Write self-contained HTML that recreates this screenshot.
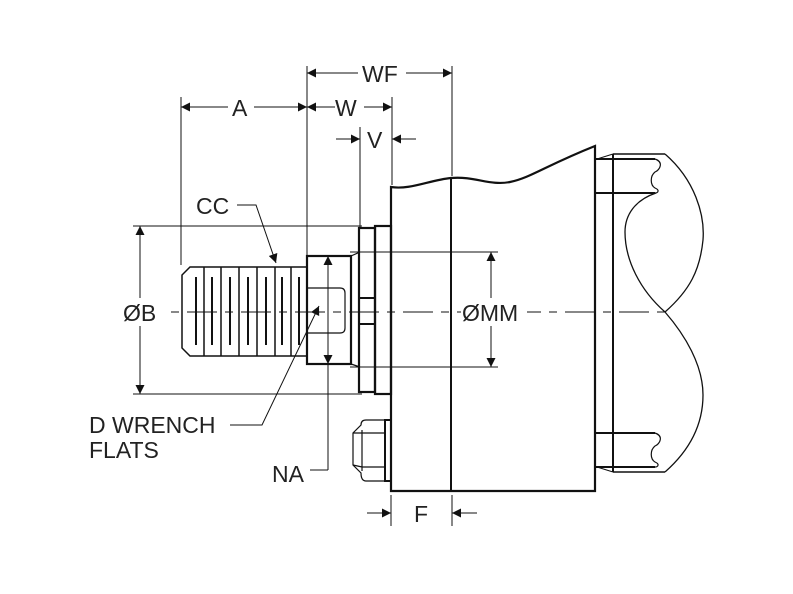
<!DOCTYPE html>
<html><head><meta charset="utf-8"><style>
html,body{margin:0;padding:0;background:#fff}
svg{display:block}
text{font-family:"Liberation Sans",sans-serif;font-size:23px;fill:#222}
</style></head><body>
<svg width="793" height="594" viewBox="0 0 793 594" xmlns="http://www.w3.org/2000/svg">
<defs>
<marker id="ar2" viewBox="0 0 10 10" refX="10" refY="5" markerWidth="18" markerHeight="9" orient="auto-start-reverse" markerUnits="userSpaceOnUse"><path d="M0,0 L10,5 L0,10 z" fill="#111"/></marker>
</defs>
<g stroke="#111" fill="none">
<line x1="133" y1="312" x2="672" y2="312" stroke-width="1" stroke-dasharray="30,8,8,8"/>
<g stroke-width="1">
<line x1="133" y1="226" x2="362" y2="226"/>
<line x1="133" y1="394" x2="362" y2="394"/>
<line x1="350" y1="252" x2="498" y2="252"/>
<line x1="350" y1="367" x2="498" y2="367"/>
<line x1="181" y1="97" x2="181" y2="265"/>
<line x1="307" y1="66" x2="307" y2="255"/>
<line x1="392" y1="97" x2="392" y2="185"/>
<line x1="360" y1="127" x2="360" y2="228"/>
<line x1="452" y1="66" x2="452" y2="176"/>
<line x1="391" y1="495" x2="391" y2="526"/>
<line x1="452" y1="495" x2="452" y2="526"/>
<line x1="140" y1="226" x2="140" y2="298" marker-start="url(#ar2)"/>
<line x1="140" y1="326" x2="140" y2="394" marker-end="url(#ar2)"/>
<line x1="491" y1="252" x2="491" y2="298" marker-start="url(#ar2)"/>
<line x1="491" y1="326" x2="491" y2="367" marker-end="url(#ar2)"/>
<line x1="328" y1="256" x2="328" y2="470" marker-start="url(#ar2)"/>
<line x1="328" y1="364" x2="328" y2="340" marker-start="url(#ar2)"/>
<line x1="328" y1="470" x2="310" y2="470"/>
<line x1="181" y1="107" x2="228" y2="107" marker-start="url(#ar2)"/>
<line x1="254" y1="107" x2="307" y2="107" marker-end="url(#ar2)"/>
<line x1="307" y1="107" x2="335" y2="107" marker-start="url(#ar2)"/>
<line x1="364" y1="107" x2="392" y2="107" marker-end="url(#ar2)"/>
<line x1="336" y1="139" x2="360" y2="139" marker-end="url(#ar2)"/>
<line x1="416" y1="139" x2="392" y2="139" marker-end="url(#ar2)"/>
<line x1="307" y1="73" x2="358" y2="73" marker-start="url(#ar2)"/>
<line x1="406" y1="73" x2="452" y2="73" marker-end="url(#ar2)"/>
<line x1="367" y1="513" x2="391" y2="513" marker-end="url(#ar2)"/>
<line x1="477" y1="513" x2="452" y2="513" marker-end="url(#ar2)"/>
<polyline points="237,205 256,205 276,263" marker-end="url(#ar2)"/>
<polyline points="230,425 262,425 319,306" marker-end="url(#ar2)"/>
</g>
<g stroke-width="1.5">
<path d="M190,267 L307,267 L307,356 L190,356 L182,348 L182,275 Z"/>
<line x1="204" y1="267" x2="204" y2="356"/>
<line x1="221" y1="267" x2="221" y2="356"/>
<line x1="239" y1="267" x2="239" y2="356"/>
<line x1="257" y1="267" x2="257" y2="356"/>
<line x1="275" y1="267" x2="275" y2="356"/>
<line x1="291" y1="267" x2="291" y2="356"/>
</g>
<g stroke-width="2">
<line x1="196" y1="277" x2="196" y2="345"/><line x1="212" y1="277" x2="212" y2="345"/>
<line x1="230" y1="277" x2="230" y2="345"/><line x1="248" y1="277" x2="248" y2="345"/>
<line x1="266" y1="277" x2="266" y2="345"/><line x1="282" y1="277" x2="282" y2="345"/>
<line x1="299" y1="277" x2="299" y2="345"/>
</g>
<rect x="307" y="256" width="44" height="108" stroke-width="2.2"/>
<path d="M351,256 L360,252 M351,364 L360,367" stroke-width="1.2"/>
<path d="M307,288 L340,288 Q345,288 345,293 L345,328 Q345,333 340,333 L307,333" stroke-width="1.2"/>
<rect x="359" y="228" width="16" height="164" stroke-width="2.2"/>
<line x1="359" y1="298" x2="375" y2="298" stroke-width="2"/>
<line x1="359" y1="324" x2="375" y2="324" stroke-width="2"/>
<rect x="375" y="226" width="16" height="168" stroke-width="2.2"/>
<path d="M391,187 C410,190 430,180 451,178 C475,176 490,186 510,182 C530,178 545,166 595,146 L595,491 L391,491 Z" stroke-width="2.2"/>
<line x1="451" y1="178" x2="451" y2="491" stroke-width="2"/>
<path d="M385,420 L366,420 Q361,420 361,425 L353,433 L353,465 L361,473 Q361,481 366,481 L385,481" stroke-width="1.2"/>
<rect x="385" y="420" width="6" height="61" stroke-width="2"/>
<path d="M362,430 L362,471 M362,433 L385,433 M362,467 L385,467 M353,433 L362,433 M353,465 L362,467" stroke-width="1.2"/>
<g stroke-width="2">
<path d="M595,159 L655,159 M595,193 L655,193"/>
<path d="M655,159 C664,162 660,170 655,172 C650,176 650,185 655,188 C660,190 658,193 655,193" stroke-width="1.2"/>
<path d="M595,433 L655,433 M595,467 L655,467"/>
<path d="M655,433 C664,436 660,444 655,446 C650,450 650,459 655,462 C660,464 658,467 655,467" stroke-width="1.2"/>
<line x1="613" y1="154" x2="613" y2="472"/>
<line x1="613" y1="154" x2="665" y2="154" stroke-width="1.5"/>
<line x1="613" y1="472" x2="665" y2="472" stroke-width="1.5"/>
<path d="M597,159 L613,154 M597,467 L613,472" stroke-width="1"/>
</g>
<g stroke-width="1.3">
<path d="M665,154 C695,180 705,215 703,240 C700,270 690,290 665,312 C685,335 703,365 703,395 C703,425 690,450 665,472"/>
<path d="M656,193 C635,200 625,215 625,232 C625,260 640,290 665,312"/>
</g>
</g>
<g>
<rect x="122" y="300" width="44" height="24" fill="#fff"/>
<text x="123" y="321">ØB</text>
<rect x="461" y="300" width="66" height="24" fill="#fff"/>
<text x="462" y="321">ØMM</text>
<text x="232" y="116">A</text>
<text x="335" y="116">W</text>
<text x="367" y="148">V</text>
<text x="362" y="82">WF</text>
<text x="414" y="522">F</text>
<text x="196" y="214">CC</text>
<text x="89" y="433">D WRENCH</text>
<text x="89" y="458">FLATS</text>
<text x="272" y="482">NA</text>
</g>
</svg>
</body></html>
